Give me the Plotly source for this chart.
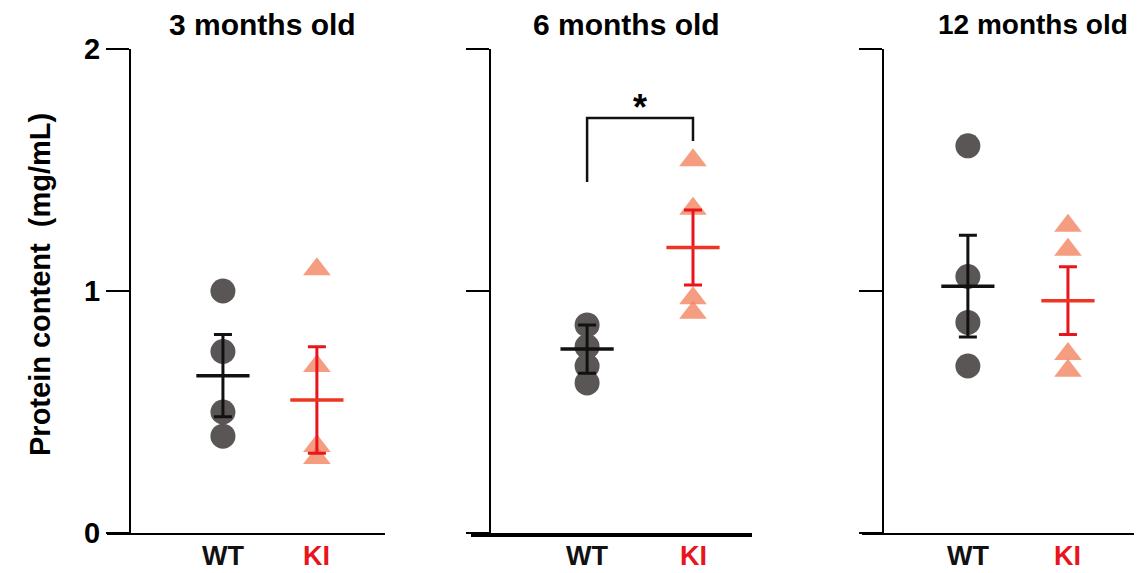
import plotly.graph_objects as go

# ---- data ----
ages = ["3 months old", "6 months old", "12 months old"]
groups = ["WT", "KI"]
group_colors = ["#111111", "#e8161c"]
wt_3 = [1.00, 0.75, 0.50, 0.40]
ki_3 = [1.09, 0.69, 0.36, 0.31]
wt_6 = [0.86, 0.77, 0.69, 0.62]
ki_6 = [1.54, 1.34, 0.97, 0.91]
wt_12 = [1.60, 1.06, 0.87, 0.69]
ki_12 = [1.27, 1.17, 0.74, 0.67]
wt_mean = [0.65, 0.76, 1.02]
wt_sem = [0.17, 0.10, 0.21]
ki_mean = [0.55, 1.18, 0.96]
ki_sem = [0.22, 0.155, 0.14]
sig_bracket_y = [1.45, 1.715, 1.715, 1.62]
sig_label_y = 1.76
y_ticks = [0, 1, 2]

# page is drawn with an 8px body margin: size the figure to the visible area
OFF = 8
W, H = 1142 - OFF, 573 - OFF
FONT = "Liberation Sans, Arial, sans-serif"
GRAY = "#5a5656"
SALMON = "rgba(242,130,92,0.78)"
RED = "#e8161c"
BLACK = "#111111"


def fx(px):
    return (px - OFF) / W


def fy(py):
    return 1 - (py - OFF) / H


wt_points = [wt_3, wt_6, wt_12]
ki_points = [ki_3, ki_6, ki_12]

# pixel layout (page pixels)
x_dom_px = [(107, 385), (471, 752), (862, 1140)]
y_axis_px = [130, 490, 883]
x_ranges = [[-1.234, 1.725], [-1.096, 1.557], [-1.058, 1.720]]
y_dom = [fy(533), fy(49)]
title_x_px = [262, 626, 1033]
title_sizes = [30, 30, 28]

fig = go.Figure()
for i in range(3):
    xa = "x" if i == 0 else f"x{i+1}"
    ya = "y" if i == 0 else f"y{i+1}"
    fig.add_trace(go.Scatter(x=[0] * len(wt_points[i]), y=wt_points[i], mode="markers",
                             marker=dict(symbol="circle", size=25, color=GRAY),
                             xaxis=xa, yaxis=ya, showlegend=False))
    fig.add_trace(go.Scatter(x=[1] * len(ki_points[i]), y=ki_points[i], mode="markers",
                             marker=dict(symbol="triangle-up", size=24, color=SALMON),
                             xaxis=xa, yaxis=ya, showlegend=False))
    fig.add_trace(go.Scatter(x=[0], y=[wt_mean[i]], mode="markers",
                             marker=dict(symbol="line-ew", size=38, color=BLACK,
                                         line=dict(color=BLACK, width=3.5)),
                             error_y=dict(type="data", array=[wt_sem[i]], color=BLACK,
                                          thickness=3, width=9),
                             xaxis=xa, yaxis=ya, showlegend=False))
    fig.add_trace(go.Scatter(x=[1], y=[ki_mean[i]], mode="markers",
                             marker=dict(symbol="line-ew", size=38, color="#ee3524",
                                         line=dict(color="#ee3524", width=3.5)),
                             error_y=dict(type="data", array=[ki_sem[i]], color=RED,
                                          thickness=3, width=9),
                             xaxis=xa, yaxis=ya, showlegend=False))

# significance bracket (6 months)
fig.add_trace(go.Scatter(x=[0, 0, 1, 1], y=sig_bracket_y, mode="lines",
                         line=dict(color=BLACK, width=2.5), xaxis="x2", yaxis="y2",
                         showlegend=False))

layout = dict(width=W, height=H, margin=dict(l=0, r=0, t=0, b=0, autoexpand=False),
              template="none",
              paper_bgcolor="white", plot_bgcolor="white",
              font=dict(family=FONT, color="black"), showlegend=False)

for i in range(3):
    xk = "xaxis" if i == 0 else f"xaxis{i+1}"
    yk = "yaxis" if i == 0 else f"yaxis{i+1}"
    ya = "y" if i == 0 else f"y{i+1}"
    layout[xk] = dict(domain=[fx(x_dom_px[i][0]), min(1.0, fx(x_dom_px[i][1]))], anchor=ya,
                      range=x_ranges[i], tickvals=[0, 1], showticklabels=False,
                      showline=True, linecolor="black", linewidth=3.5 if i == 1 else 2.2,
                      showgrid=False, zeroline=False, ticks="", automargin=False)
    layout[yk] = dict(domain=y_dom, anchor="free", position=fx(y_axis_px[i]),
                      range=[0, 2], tickvals=y_ticks, showline=True, linecolor="black",
                      linewidth=2, ticks="outside", ticklen=23, tickwidth=2,
                      tickcolor="black", showgrid=False, zeroline=False, automargin=False,
                      showticklabels=(i == 0),
                      tickfont=dict(size=29, family=FONT, weight="bold", color="black"))

annotations = []
for i in range(3):
    xa = "x" if i == 0 else f"x{i+1}"
    annotations.append(dict(text=ages[i], x=fx(title_x_px[i]), y=fy(25),
                            xref="paper", yref="paper", showarrow=False,
                            xanchor="center", yanchor="middle",
                            font=dict(size=title_sizes[i], family=FONT, weight="bold",
                                      color="black")))
    # category labels under each panel
    for g, (name, col) in enumerate(zip(groups, group_colors)):
        annotations.append(dict(text=name, x=g, y=fy(556), xref=xa, yref="paper",
                                showarrow=False, xanchor="center", yanchor="middle",
                                font=dict(size=27, family=FONT, weight="bold", color=col)))
annotations.append(dict(text="Protein content  (mg/mL)", x=fx(40), y=fy(285),
                        xref="paper", yref="paper", showarrow=False, textangle=-90,
                        xanchor="center", yanchor="middle",
                        font=dict(size=29, family=FONT, weight="bold", color="black")))
annotations.append(dict(text="*", x=0.5, y=sig_label_y, xref="x2", yref="y2",
                        showarrow=False, xanchor="center", yanchor="middle",
                        font=dict(size=36, family=FONT, weight="bold", color="black")))
layout["annotations"] = annotations

fig.update_layout(**layout)
fig.write_html("out.html")
